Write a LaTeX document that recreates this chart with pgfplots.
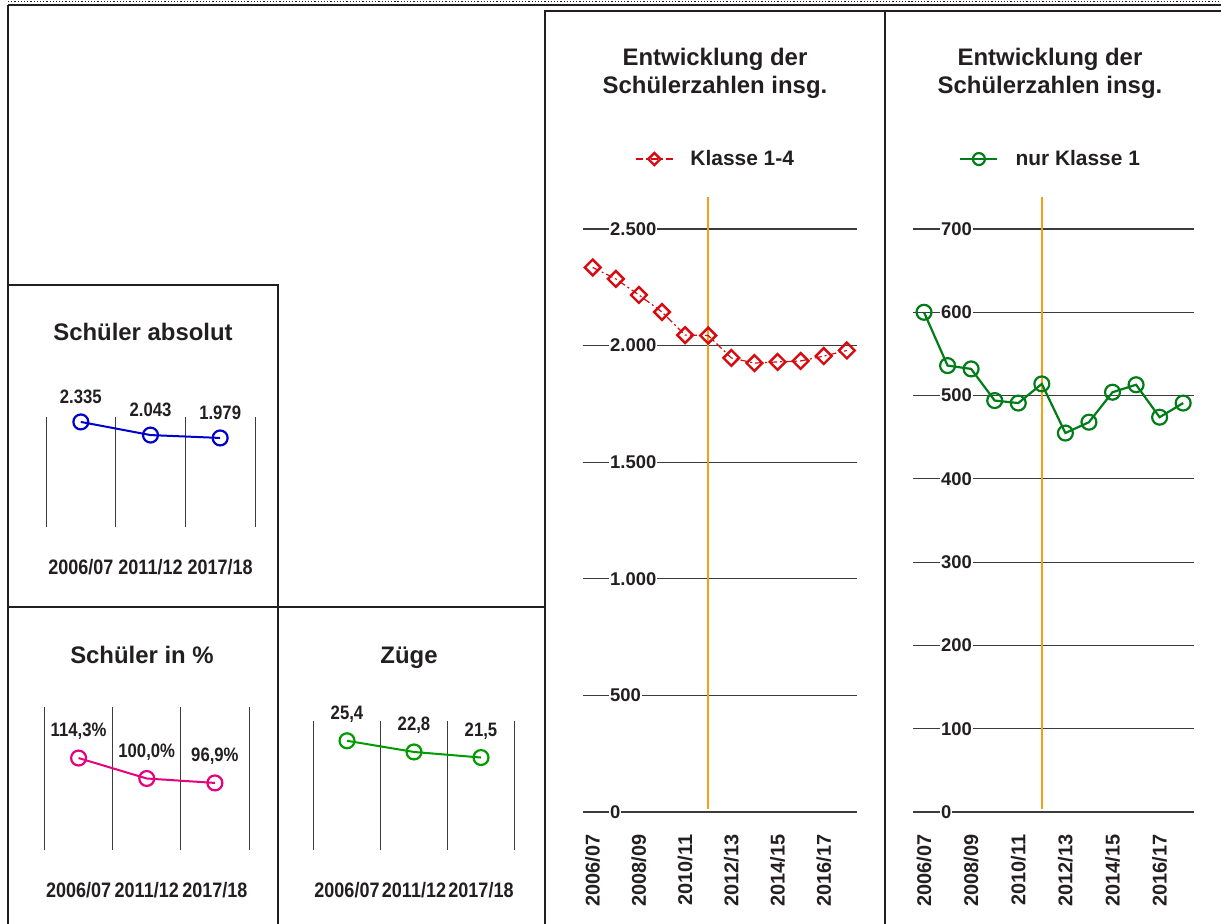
\documentclass[border=0pt]{standalone}
\usepackage{fontspec}
\setmainfont{Liberation Sans}
\newfontfamily\condfont[FakeStretch=0.86]{Liberation Sans}
\usepackage{pgfplots}
\pgfplotsset{compat=1.18}

\definecolor{txt}{RGB}{35,31,32}
\definecolor{kred}{RGB}{215,10,15}
\definecolor{kgreen}{RGB}{0,125,25}
\definecolor{zgreen}{RGB}{0,155,0}
\definecolor{sblue}{RGB}{0,0,205}
\definecolor{smag}{RGB}{230,0,126}
\definecolor{korange}{RGB}{245,160,20}
\definecolor{gridc}{RGB}{60,60,60}

\newcommand{\titlefont}{\fontsize{24}{28}\selectfont\bfseries}

\pgfplotsset{
  small panel/.style={
    scale only axis,
    anchor=south west,
    xmin=-0.5, xmax=2.5,
    axis line style={draw=none},
    major tick length=0pt,
    ytick=\empty,
    xtick={0,1,2},
    xticklabels={2006/07,2011/12,2017/18},
    xticklabel style={font=\condfont\fontsize{21}{21}\selectfont\bfseries, text=txt, yshift=-29bp},
    extra x ticks={-0.5,0.5,1.5,2.5},
    extra x tick labels={},
    extra x tick style={grid=major, major grid style={gridc, line width=1bp}},
    clip=false,
    nodes near coords,
    point meta=explicit symbolic,
    every node near coord/.append style={font=\condfont\fontsize{19.5}{19.5}\selectfont\bfseries, text=txt, anchor=south, yshift=14bp},
  },
  big panel/.style={
    scale only axis,
    anchor=south west,
    axis line style={draw=none},
    major tick length=0pt,
    height=583bp,
    ymin=0,
    ymajorgrids,
    major grid style={gridc, line width=1.1bp},
    xtick={0,2,4,6,8,10},
    xticklabels={2006/07,2008/09,2010/11,2012/13,2014/15,2016/17},
    xticklabel style={yshift=-19bp, rotate=90, anchor=east, font=\fontsize{20}{20}\selectfont\bfseries, text=txt},
    yticklabel style={anchor=west, xshift=#1, fill=white, inner xsep=1bp, inner ysep=2bp, font=\fontsize{18.5}{18.5}\selectfont\bfseries, text=txt},
    /pgf/number format/assume math mode=true,
    /pgf/number format/1000 sep={.},
    scaled y ticks=false,
    clip=false,
    legend style={draw=none, fill=none, inner sep=0pt, anchor=west,
      nodes={inner sep=0pt, font=\fontsize{21}{21}\selectfont\bfseries, text=txt},
      /tikz/every odd column/.append style={column sep=17bp}},
  },
}

\begin{document}
\begin{tikzpicture}
\begin{scope}[x=1bp,y=1bp]
\useasboundingbox (0,0) rectangle (1221,924);

% frame lines
\draw[txt, line width=1.2bp, dotted] (8,922.5) -- (1221,922.5);
\draw[txt, line width=1.6bp] (8,919) -- (1221,919);
\draw[txt, line width=1.2bp] (8,919) -- (8,0);
\draw[txt, line width=1.2bp] (8,639) -- (278,639) -- (278,0);
\draw[txt, line width=1.2bp] (8,317) -- (545,317);
\draw[txt, line width=1.2bp] (545,0) -- (545,913) -- (1221,913);
\draw[txt, line width=1.2bp] (885,913) -- (885,0);

% titles
\node[align=center, font=\titlefont, text=txt] at (715,851) {Entwicklung der\\Schülerzahlen insg.};
\node[align=center, font=\titlefont, text=txt] at (1050,851) {Entwicklung der\\Schülerzahlen insg.};
\node[font=\titlefont, text=txt] at (143,592) {Schüler absolut};
\node[font=\titlefont, text=txt] at (142,269) {Schüler in \%};
\node[font=\titlefont, text=txt] at (409,266) {Züge};
\end{scope}

% Klasse 1-4
\begin{axis}[big panel=26bp,
  at={(583bp,112bp)}, width=274bp,
  xmin=-0.42, xmax=11.44,
  ymax=2500, ytick={0,500,...,2500},
  legend style={at={(rel axis cs:0.19,1.12)}},
  legend image code/.code={\draw[mark repeat=2,mark phase=2,#1,mark size=4.3pt] plot coordinates {(0bp,0bp) (18.5bp,0bp) (37bp,0bp)};},
]
\draw[korange, line width=1.8bp] (axis cs:5,13) -- (axis cs:5,2637);
\addplot[kred, line width=1.2bp, dash pattern=on 7bp off 3bp on 2bp off 3bp,
  mark=square, mark size=5.6pt, mark options={solid, rotate=45, line width=2.4bp}]
  coordinates {
  (0,2335) (1,2286) (2,2217) (3,2144) (4,2045) (5,2043)
  (6,1947) (7,1925) (8,1930) (9,1934) (10,1955) (11,1979)
  };
\addlegendentry{Klasse 1-4}
\end{axis}

% nur Klasse 1
\begin{axis}[big panel=27bp,
  at={(913bp,112bp)}, width=281bp,
  xmin=-0.467, xmax=11.46,
  ymax=700, ytick={0,100,...,700},
  legend style={at={(rel axis cs:0.164,1.12)}},
  legend image code/.code={\draw[mark repeat=2,mark phase=2,#1,mark size=6pt] plot coordinates {(0bp,0bp) (18.5bp,0bp) (37bp,0bp)};},
]
\addplot[draw=korange, line width=1.6bp, forget plot] coordinates {(5,4) (5,738)};
\addplot[kgreen, line width=2.2bp,
  mark=o, mark size=7.5pt, mark options={line width=2.2bp, fill=white}]
  coordinates {
  (0,600) (1,536) (2,532) (3,494) (4,491) (5,514)
  (6,455) (7,468) (8,504) (9,513) (10,474) (11,491)
  };
\addlegendentry{nur Klasse 1}
\end{axis}

% Schueler absolut
\begin{axis}[small panel,
  at={(46bp,397bp)}, width=209bp, height=110bp,
  ymin=0, ymax=2445,
]
\addplot[sblue, line width=2bp, mark=o, mark size=7.5pt, mark options={line width=2.2bp, fill=white}]
  coordinates {(0,2335) [2.335] (1,2043) [2.043] (2,1979) [1.979]};
\end{axis}

% Schueler in %
\begin{axis}[small panel,
  at={(44.5bp,74bp)}, width=204.5bp, height=143bp,
  ymin=50, ymax=150,
]
\addplot[smag, line width=2bp, mark=o, mark size=7.5pt, mark options={line width=2.2bp, fill=white}]
  coordinates {(0,114.3) [114,3\%] (1,100.0) [100,0\%] (2,96.9) [96,9\%]};
\end{axis}

% Zuege
\begin{axis}[small panel,
  at={(313.5bp,74bp)}, width=201bp, height=129bp,
  ymin=0, ymax=30,
]
\addplot[zgreen, line width=2bp, mark=o, mark size=7.5pt, mark options={line width=2.2bp, fill=white}]
  coordinates {(0,25.4) [25,4] (1,22.8) [22,8] (2,21.5) [21,5]};
\end{axis}

\end{tikzpicture}
\end{document}
